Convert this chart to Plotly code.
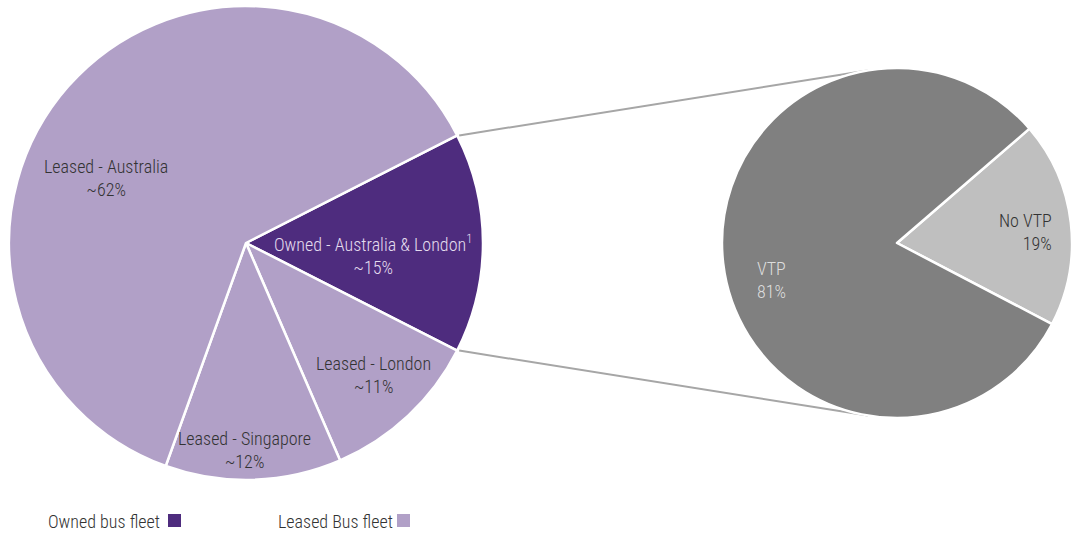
import math
import plotly.graph_objects as go

# Bus fleet split (percent of total fleet)
fleet_labels = ["Owned - Australia & London<sup>1</sup>", "Leased - London", "Leased - Singapore", "Leased - Australia"]
fleet_values = [15, 11, 12, 62]
fleet_colors = ["#4E2C7E", "#B1A0C7", "#B1A0C7", "#B1A0C7"]

# Owned fleet breakdown (percent)
vtp_labels = ["No VTP", "VTP"]
vtp_values = [19, 81]
vtp_colors = ["#BFBFBF", "#808080"]

# Legend entries
legend_labels = ["Owned bus fleet", "Leased Bus fleet"]
legend_colors = ["#4E2C7E", "#B1A0C7"]

W, H = 1072, 534
FONT = "Roboto Condensed, Arial Narrow, sans-serif"
FS = 18
FW = 300

# pie geometry in pixels
L_CX, L_CY, L_R = 246, 243, 237
R_X0 = 722
R_R = (W - R_X0) / 2
R_CX, R_CY = R_X0 + R_R, 243

owned_share = fleet_values[0] / sum(fleet_values)
left_rot = 90 - owned_share * 360 / 2          # owned slice centred at 3 o'clock
right_rot = 90 - 40.8                             # start of "No VTP" slice

fig = go.Figure()
fig.add_trace(go.Pie(
    labels=fleet_labels, values=fleet_values, sort=False, direction="clockwise",
    rotation=left_rot, marker=dict(colors=fleet_colors, line=dict(color="white", width=2.5)),
    textinfo="none", hoverinfo="label+percent", showlegend=False,
    domain=dict(x=[(L_CX - L_R) / W, (L_CX + L_R) / W],
                y=[1 - (L_CY + L_R) / H, 1 - (L_CY - L_R) / H]),
))
fig.add_trace(go.Pie(
    labels=vtp_labels, values=vtp_values, sort=False, direction="clockwise",
    rotation=right_rot, marker=dict(colors=vtp_colors, line=dict(color="white", width=2.5)),
    textinfo="none", hoverinfo="label+percent", showlegend=False,
    domain=dict(x=[R_X0 / W, 1.0],
                y=[1 - (R_CY + R_R) / H, 1 - (R_CY - R_R) / H]),
))

def px(x, y):
    return x / W, 1 - y / H

# connector lines from the owned slice to the breakdown pie
half = owned_share * math.pi  # half angle of owned slice (radians)
left_pts = [(L_CX + L_R * math.cos(half), L_CY - L_R * math.sin(half)),
            (L_CX + L_R * math.cos(half), L_CY + L_R * math.sin(half))]
right_angles = [math.radians(-8.7), math.radians(189.6)]  # clockwise from 12 o'clock
right_pts = [(R_CX + R_R * math.sin(a), R_CY - R_R * math.cos(a)) for a in right_angles]
shapes = []
for (x0, y0), (x1, y1) in zip(left_pts, right_pts):
    a0, b0 = px(x0 + 2, y0)
    a1, b1 = px(x1, y1)
    shapes.append(dict(type="line", xref="paper", yref="paper", x0=a0, y0=b0, x1=a1, y1=b1,
                       line=dict(color="#A6A6A6", width=2), layer="below"))

annotations = []
def label(text, x, y, color, align="center", xanchor="center"):
    ax, ay = px(x, y)
    annotations.append(dict(text=text, x=ax, y=ay, xref="paper", yref="paper",
                            xanchor=xanchor, yanchor="middle", showarrow=False, align=align,
                            font=dict(family=FONT, size=FS, weight=FW, color=color)))

pos = {
    fleet_labels[0]: (373, 255, "#E4DCEE"),
    fleet_labels[1]: (373, 375, "#333333"),
    fleet_labels[2]: (244, 450, "#333333"),
    fleet_labels[3]: (106, 178, "#333333"),
}
for lab, val in zip(fleet_labels, fleet_values):
    x, y, c = pos[lab]
    label(f"{lab}<br>~{val}%", x, y, c)

label(f"{vtp_labels[0]}<br>{vtp_values[0]}%", 1054, 232, "#333333", align="right", xanchor="right")
label(f"{vtp_labels[1]}<br>{vtp_values[1]}%", 755, 280, "#DDDDDD", align="left", xanchor="left")

# legend text with trailing colour squares
leg_x = [46, 276]
sq_x = [168, 397]
for name, col, lx, sx in zip(legend_labels, legend_colors, leg_x, sq_x):
    ax, ay = px(lx, 521)
    annotations.append(dict(text=name, x=ax, y=ay, xref="paper", yref="paper",
                            xanchor="left", yanchor="middle", showarrow=False,
                            font=dict(family=FONT, size=FS, weight=FW, color="#333333")))
    x0, y0 = px(sx, 527)
    x1, y1 = px(sx + 13, 514)
    shapes.append(dict(type="rect", xref="paper", yref="paper", x0=x0, y0=y0, x1=x1, y1=y1,
                       fillcolor=col, line=dict(width=0)))

fig.update_layout(width=W, height=H, margin=dict(l=0, r=0, t=0, b=0),
                  paper_bgcolor="white", plot_bgcolor="white",
                  shapes=shapes, annotations=annotations)
fig.write_html("out.html")
